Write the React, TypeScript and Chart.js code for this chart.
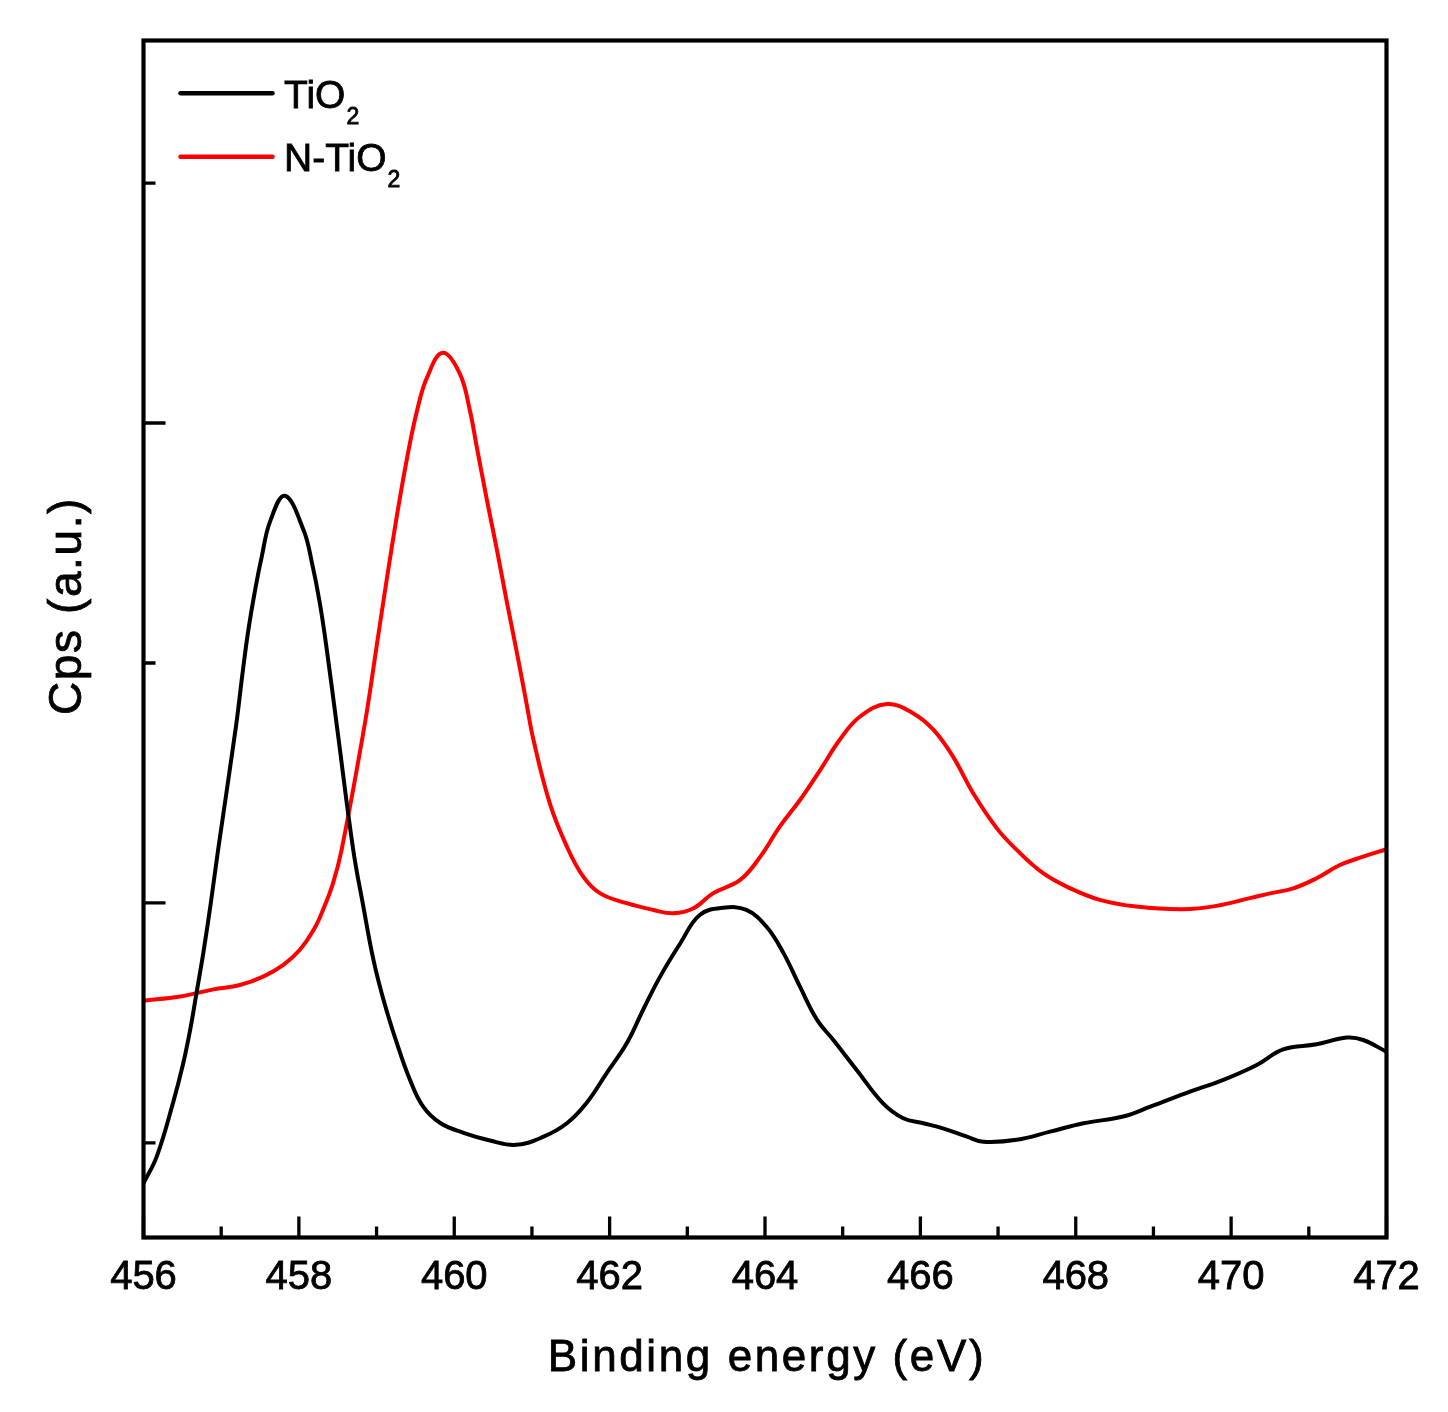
import React, { useEffect, useRef } from 'react';
import { Chart, registerables } from 'chart.js';

Chart.register(...registerables);

const FONT = '"Liberation Sans", Arial, Helvetica, sans-serif';

// Binding energy (eV) and intensity (a.u.)
const tio2X = [456.00, 456.17, 456.38, 456.51, 456.60, 456.68, 456.77, 456.86, 456.96, 457.19, 457.28, 457.35, 457.44, 457.52, 457.63, 457.82, 458.06, 458.17, 458.27, 458.36, 458.49, 458.70, 458.83, 458.96, 459.09, 459.26, 459.43, 459.60, 459.82, 460.12, 460.46, 460.80, 461.15, 461.45, 461.70, 461.96, 462.22, 462.43, 462.65, 462.91, 463.16, 463.46, 463.76, 464.02, 464.24, 464.45, 464.67, 464.88, 465.18, 465.52, 465.78, 466.04, 466.29, 466.60, 466.81, 467.24, 467.67, 468.10, 468.61, 468.96, 469.47, 469.90, 470.33, 470.67, 471.10, 471.49, 471.70, 472.00];
const tio2Y = [0.832, 0.943, 1.167, 1.330, 1.470, 1.620, 1.792, 1.985, 2.221, 2.735, 2.971, 3.138, 3.310, 3.440, 3.590, 3.697, 3.554, 3.415, 3.249, 3.054, 2.735, 2.221, 1.985, 1.763, 1.596, 1.417, 1.263, 1.151, 1.083, 1.042, 1.010, 0.992, 1.026, 1.082, 1.165, 1.290, 1.415, 1.554, 1.693, 1.832, 1.950, 1.980, 1.971, 1.901, 1.790, 1.651, 1.513, 1.429, 1.304, 1.165, 1.103, 1.082, 1.061, 1.026, 1.005, 1.013, 1.047, 1.082, 1.110, 1.151, 1.214, 1.263, 1.325, 1.390, 1.411, 1.439, 1.429, 1.380];

const ntio2X = [456.00, 456.47, 456.90, 457.24, 457.54, 457.80, 458.01, 458.19, 458.31, 458.44, 458.55, 458.85, 459.00, 459.13, 459.26, 459.39, 459.52, 459.65, 459.85, 460.07, 460.20, 460.29, 460.42, 460.55, 460.68, 460.80, 460.93, 461.02, 461.23, 461.45, 461.66, 461.88, 462.22, 462.56, 462.82, 463.08, 463.33, 463.68, 463.94, 464.19, 464.45, 464.71, 464.96, 465.22, 465.57, 465.91, 466.17, 466.42, 466.68, 466.98, 467.24, 467.58, 467.93, 468.31, 468.78, 469.38, 469.81, 470.24, 470.50, 470.80, 471.10, 471.40, 471.70, 472.00];
const ntio2Y = [1.593, 1.610, 1.640, 1.658, 1.693, 1.742, 1.804, 1.888, 1.971, 2.083, 2.221, 2.749, 3.068, 3.346, 3.610, 3.850, 4.050, 4.190, 4.293, 4.207, 4.054, 3.900, 3.680, 3.470, 3.249, 3.054, 2.832, 2.679, 2.415, 2.235, 2.110, 2.040, 1.999, 1.971, 1.957, 1.978, 2.040, 2.096, 2.193, 2.318, 2.429, 2.554, 2.679, 2.776, 2.829, 2.790, 2.721, 2.610, 2.457, 2.313, 2.221, 2.124, 2.061, 2.013, 1.985, 1.974, 1.988, 2.020, 2.040, 2.061, 2.103, 2.158, 2.193, 2.224];

const seriesLabels = ['TiO₂', 'N-TiO₂'];
const seriesColors = ['#000000', '#ff0000'];

const xMin = 456;
const xMax = 472;
const xStep = 2;
const xMinorTicks = [457, 459, 461, 463, 465, 467, 469, 471];
const yMin = 0.606;
const yMax = 5.594;
const yMajorTicks = [2, 4];
const yMinorTicks = [1, 3, 5];

const xTitle = 'Binding energy (eV)';
const yTitle = 'Cps (a.u.)';

function heavyText(ctx: CanvasRenderingContext2D, text: string, x: number, y: number) {
  ctx.fillText(text, x, y);
  ctx.strokeText(text, x, y);
}

function drawSubText(ctx: CanvasRenderingContext2D, text: string, x: number, y: number, size: number, subSize: number) {
  const parts = text.split('₂');
  let cx = x;
  parts.forEach((p, i) => {
    ctx.font = `${size}px ${FONT}`;
    heavyText(ctx, p, cx, y);
    cx += ctx.measureText(p).width;
    if (i < parts.length - 1) {
      ctx.font = `${subSize}px ${FONT}`;
      heavyText(ctx, '2', cx + 1, y + 16);
      cx += ctx.measureText('2').width + 1;
    }
  });
}

const framePlugin = {
  id: 'frame',
  afterDatasetsDraw(chart: any) {
    const { ctx, chartArea: a, scales } = chart;
    const xs = scales.x;
    const ys = scales.y;
    ctx.save();
    ctx.strokeStyle = '#000';
    ctx.fillStyle = '#000';
    ctx.lineCap = 'butt';
    ctx.lineWidth = 3.3;
    ctx.beginPath();
    xs.ticks.forEach((t: any) => {
      const px = xs.getPixelForValue(t.value);
      ctx.moveTo(px, a.bottom);
      ctx.lineTo(px, a.bottom - 21);
    });
    xMinorTicks.forEach((v) => {
      const px = xs.getPixelForValue(v);
      ctx.moveTo(px, a.bottom);
      ctx.lineTo(px, a.bottom - 11);
    });
    yMajorTicks.forEach((v) => {
      const py = ys.getPixelForValue(v);
      ctx.moveTo(a.left, py);
      ctx.lineTo(a.left + 22, py);
    });
    yMinorTicks.forEach((v) => {
      const py = ys.getPixelForValue(v);
      ctx.moveTo(a.left, py);
      ctx.lineTo(a.left + 12, py);
    });
    ctx.stroke();

    ctx.lineWidth = 4.2;
    ctx.strokeRect(a.left, a.top, a.right - a.left, a.bottom - a.top);

    // legend
    chart.data.datasets.forEach((ds: any, i: number) => {
      const rowY = a.top + 52.8 + i * 63.4;
      ctx.strokeStyle = ds.borderColor;
      ctx.lineCap = 'round';
      ctx.lineWidth = 4.5;
      ctx.beginPath();
      ctx.moveTo(a.left + 37, rowY);
      ctx.lineTo(a.left + 129, rowY);
      ctx.stroke();
      ctx.fillStyle = '#000';
      ctx.strokeStyle = '#000';
      ctx.lineWidth = 0.8;
      ctx.textAlign = 'left';
      ctx.textBaseline = 'alphabetic';
      drawSubText(ctx, ds.label, a.left + 140.5, rowY + 14.5, 39, 23);
    });

    // axis titles
    ctx.fillStyle = '#000';
    ctx.strokeStyle = '#000';
    ctx.lineWidth = 0.8;
    ctx.textAlign = 'center';
    ctx.textBaseline = 'alphabetic';
    ctx.font = `44px ${FONT}`;
    (ctx as any).letterSpacing = '2.6px';
    heavyText(ctx, xTitle, (a.left + a.right) / 2 + 2, a.bottom + 133.5);
    ctx.save();
    ctx.translate(a.left - 62.5, a.top + 566.5);
    ctx.rotate(-Math.PI / 2);
    ctx.font = `46px ${FONT}`;
    (ctx as any).letterSpacing = '1.6px';
    heavyText(ctx, yTitle, 1, 0);
    ctx.restore();
    (ctx as any).letterSpacing = '0px';
    ctx.restore();
  },
};

export default function App() {
  const ref = useRef<HTMLCanvasElement>(null);
  useEffect(() => {
    if (!ref.current) return;
    const chart = new Chart(ref.current, {
      type: 'line',
      data: {
        datasets: [
          {
            label: seriesLabels[0],
            data: tio2X.map((x, i) => ({ x, y: tio2Y[i] })),
            borderColor: seriesColors[0],
            borderWidth: 4,
            pointRadius: 0,
            fill: false,
            tension: 0.4,
            borderJoinStyle: 'round',
          },
          {
            label: seriesLabels[1],
            data: ntio2X.map((x, i) => ({ x, y: ntio2Y[i] })),
            borderColor: seriesColors[1],
            borderWidth: 4,
            pointRadius: 0,
            fill: false,
            tension: 0.4,
            borderJoinStyle: 'round',
          },
        ],
      },
      options: {
        animation: false,
        responsive: false,
        devicePixelRatio: 1,
        layout: { padding: { top: 40.5, right: 61.5, left: 0, bottom: 0 } },
        plugins: { legend: { display: false }, tooltip: { enabled: false } },
        scales: {
          x: {
            type: 'linear',
            min: xMin,
            max: xMax,
            grid: { display: false, drawTicks: false },
            border: { display: false },
            ticks: {
              stepSize: xStep,
              autoSkip: false,
              maxRotation: 0,
              padding: 16,
              color: '#000',
              textStrokeColor: '#000',
              textStrokeWidth: 0.8,
              font: { size: 40, family: FONT },
            },
            afterFit: (s: any) => {
              s.height = 174.5;
            },
          },
          y: {
            type: 'linear',
            min: yMin,
            max: yMax,
            grid: { display: false, drawTicks: false },
            border: { display: false },
            ticks: { display: false },
            afterFit: (s: any) => {
              s.width = 143.5;
            },
          },
        },
      } as any,
      plugins: [framePlugin],
    });
    return () => chart.destroy();
  }, []);
  return (
    <div style={{ position: 'fixed', left: 0, top: 0, width: 1448, height: 1412, background: '#fff' }}>
      <canvas ref={ref} width={1448} height={1412} style={{ display: 'block' }} />
    </div>
  );
}
